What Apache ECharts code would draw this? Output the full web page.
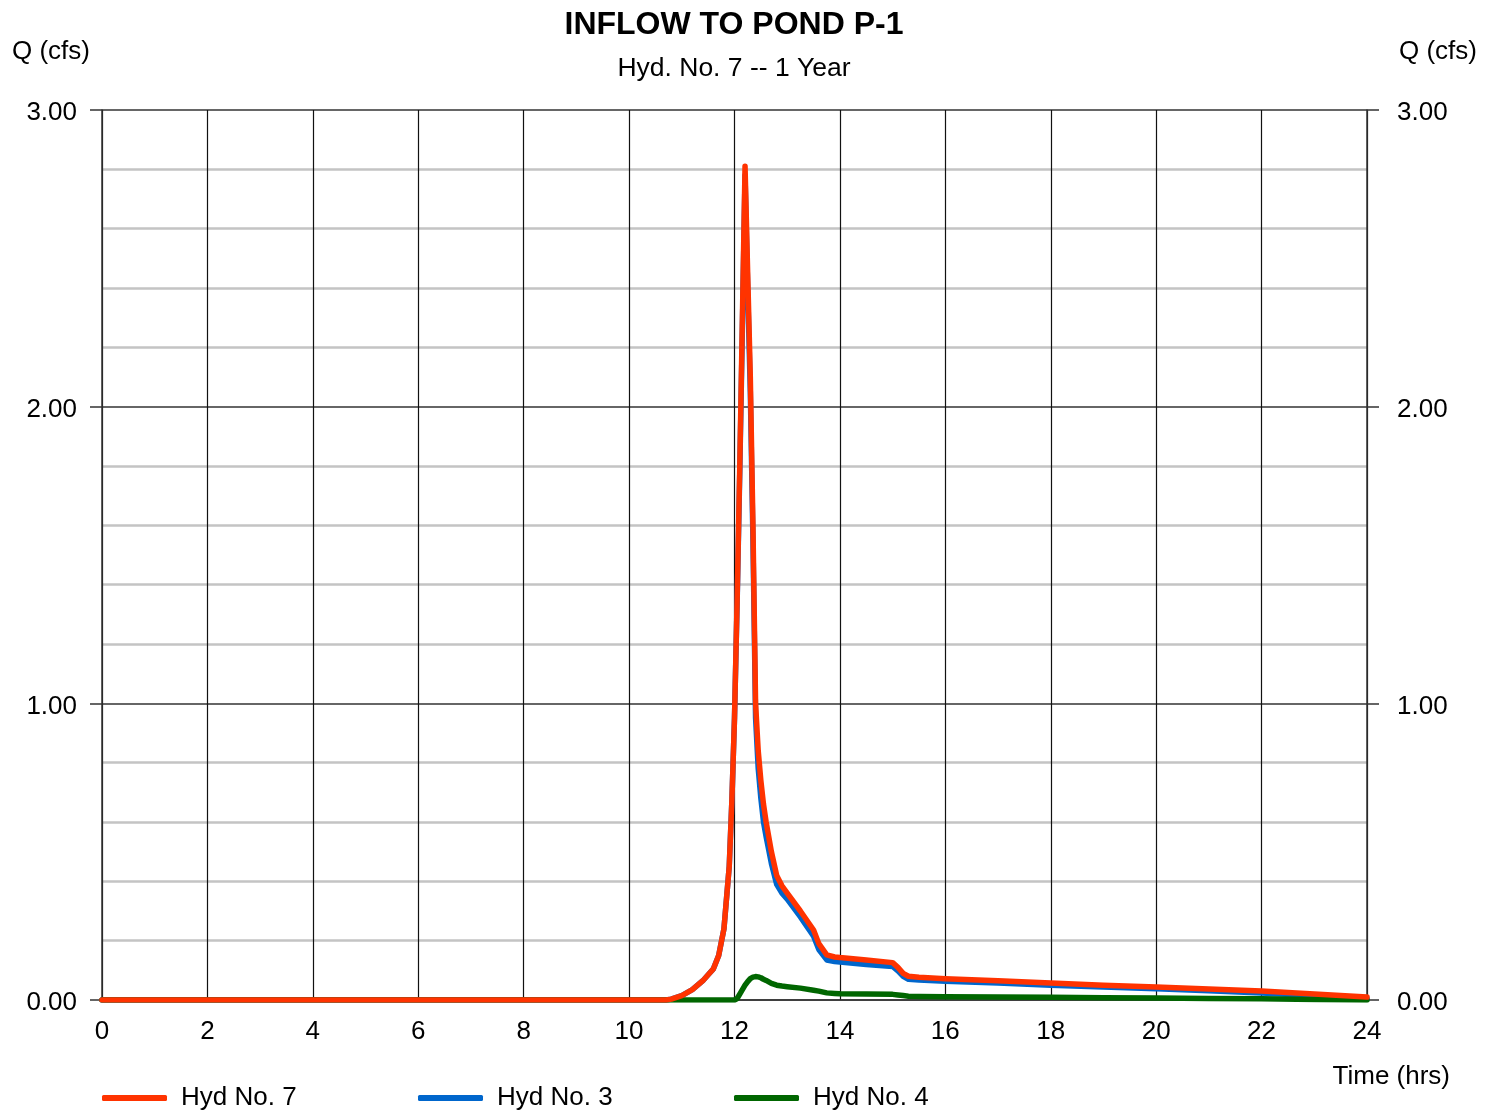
<!DOCTYPE html>
<html>
<head>
<meta charset="utf-8">
<title>Inflow to Pond P-1</title>
<script src="https://cdn.jsdelivr.net/npm/echarts@6/dist/echarts.min.js"></script>
<style>
  html, body { margin: 0; padding: 0; background: #fff; }
  #chart { width: 1497px; height: 1114px; }
</style>
</head>
<body>
<div id="chart"></div>
<script>
// time in hours
const tempo = [0, 10.7, 10.8, 11.0, 11.2, 11.4, 11.5, 11.6, 11.7, 11.8, 11.9, 11.95, 12.0,
  12.05, 12.1, 12.15, 12.2, 12.25, 12.3, 12.35, 12.4, 12.45, 12.5, 12.55, 12.6, 12.7, 12.8,
  12.9, 13.0, 13.25, 13.5, 13.6, 13.75, 13.9, 14.0, 14.5, 15.0, 15.1, 15.2, 15.3, 15.5, 16,
  17, 18, 19, 20, 21, 22, 23, 24];

// Q (cfs)
const hyd7 = [0, 0, 0.003, 0.015, 0.035, 0.065, 0.085, 0.105, 0.15, 0.24, 0.45, 0.67, 0.95,
  1.35, 1.8, 2.3, 2.81, 2.45, 2.1, 1.6, 1.0, 0.84, 0.74, 0.66, 0.6, 0.5, 0.42,
  0.385, 0.36, 0.30, 0.236, 0.19, 0.152, 0.145, 0.143, 0.135, 0.126, 0.11, 0.09, 0.08, 0.077, 0.072,
  0.065, 0.057, 0.05, 0.044, 0.037, 0.03, 0.02, 0.01];

const hyd3 = [0, 0, 0.003, 0.015, 0.035, 0.065, 0.085, 0.105, 0.15, 0.24, 0.45, 0.67, 0.95,
  1.34, 1.78, 2.27, 2.78, 2.40, 2.05, 1.55, 0.95, 0.78, 0.68, 0.6, 0.55, 0.46, 0.39,
  0.36, 0.34, 0.28, 0.215, 0.17, 0.135, 0.13, 0.128, 0.12, 0.113, 0.098, 0.08, 0.07, 0.067, 0.063,
  0.057, 0.05, 0.044, 0.038, 0.031, 0.024, 0.014, 0.005];

const hyd4 = [0, 0, 0, 0, 0, 0, 0, 0, 0, 0, 0, 0, 0,
  0.005, 0.02, 0.035, 0.05, 0.062, 0.072, 0.077, 0.079, 0.078, 0.075, 0.07, 0.066, 0.056, 0.05,
  0.047, 0.045, 0.04, 0.033, 0.03, 0.024, 0.022, 0.021, 0.02, 0.019, 0.017, 0.015, 0.013, 0.012, 0.011,
  0.01, 0.009, 0.008, 0.007, 0.005, 0.004, 0.002, 0];

const nomes = ['Hyd No. 7', 'Hyd No. 3', 'Hyd No. 4'];
const cores = ['#ff3300', '#0066cc', '#006600'];
const rotulosY = ['0.00', '1.00', '2.00', '3.00'];

const fonte = "'Liberation Sans', Arial, sans-serif";
const escuro = '#333333';

const par = (vals) => tempo.map((t, i) => [t, vals[i]]);

const chart = echarts.init(document.getElementById('chart'));

function eixoY(lado, margem, grade) {
  return {
    type: 'value',
    position: lado,
    min: 0,
    max: 3,
    interval: 1,
    axisLine: { show: true, lineStyle: { color: escuro, width: 1.5 } },
    axisTick: { show: true, length: 12, inside: false, lineStyle: { color: escuro, width: 1.5 } },
    axisLabel: {
      margin: margem,
      formatter: (v) => '{n|' + rotulosY[Math.round(v)] + '}',
      rich: {
        n: { fontSize: 26, fontFamily: fonte, color: '#000', padding: [6, 0, 0, 0] }
      }
    },
    splitLine: { show: grade, lineStyle: { color: escuro, width: 1.5 } },
    minorTick: { show: false, splitNumber: 5 },
    minorSplitLine: { show: grade, lineStyle: { color: '#c4c4c4', width: 2.5 } }
  };
}

function legenda(i, x) {
  return {
    data: [nomes[i]],
    left: x,
    top: 1085,
    padding: 0,
    icon: 'roundRect',
    itemWidth: 65,
    itemHeight: 6,
    textStyle: { fontSize: 26, fontFamily: fonte, color: '#000', padding: [0, 0, 0, 9] }
  };
}

const option = {
  backgroundColor: '#fff',
  animation: false,
  title: [
    {
      text: 'INFLOW TO POND P-1',
      left: 729, top: 4, textAlign: 'center',
      textStyle: { fontSize: 32, fontWeight: 'bold', fontFamily: fonte, color: '#000' }
    },
    {
      text: 'Hyd. No. 7 -- 1 Year',
      left: 729, top: 50, textAlign: 'center',
      textStyle: { fontSize: 26.5, fontWeight: 'normal', fontFamily: fonte, color: '#000' }
    }
  ],
  legend: [legenda(0, 102), legenda(1, 418), legenda(2, 734)],
  grid: { left: 102, right: 130, top: 110, bottom: 114 },
  xAxis: {
    type: 'value',
    min: 0,
    max: 24,
    interval: 2,
    axisLine: { show: true, onZero: false, lineStyle: { color: escuro, width: 1.5 } },
    axisTick: { show: false },
    axisLabel: { margin: 19, fontSize: 26, fontFamily: fonte, color: '#000' },
    splitLine: { show: true, lineStyle: { color: '#111', width: 1.2 } }
  },
  yAxis: [eixoY('left', 25, true), eixoY('right', 30, false)],
  graphic: [
    { type: 'text', left: 12, top: 39, style: { text: 'Q (cfs)', fontSize: 26, fontFamily: fonte, fill: '#000' } },
    { type: 'text', right: 20, top: 39, style: { text: 'Q (cfs)', fontSize: 26, fontFamily: fonte, fill: '#000' } },
    { type: 'text', right: 47, top: 1064, style: { text: 'Time (hrs)', fontSize: 26, fontFamily: fonte, fill: '#000' } }
  ],
  series: [
    {
      name: nomes[1], type: 'line', data: par(hyd3), showSymbol: false, z: 3,
      itemStyle: { color: cores[1] },
      lineStyle: { color: cores[1], width: 5.5, cap: 'round', join: 'round' }
    },
    {
      name: nomes[2], type: 'line', data: par(hyd4), showSymbol: false, z: 4,
      itemStyle: { color: cores[2] },
      lineStyle: { color: cores[2], width: 5.5, cap: 'round', join: 'round' }
    },
    {
      name: nomes[0], type: 'line', data: par(hyd7), showSymbol: false, z: 5,
      itemStyle: { color: cores[0] },
      lineStyle: { color: cores[0], width: 5.5, cap: 'round', join: 'round' }
    }
  ]
};

chart.setOption(option);
</script>
</body>
</html>
